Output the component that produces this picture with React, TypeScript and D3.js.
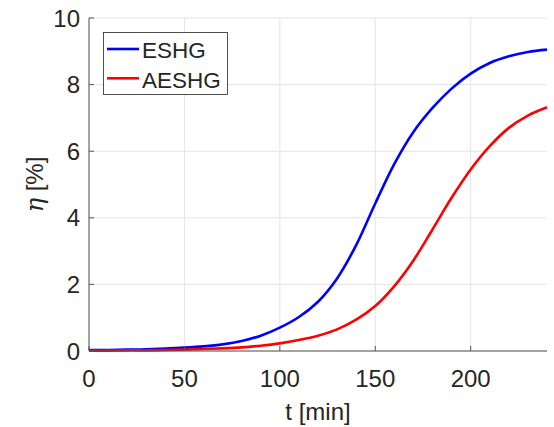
import React from "react";
import * as d3 from "d3";

const times = [0, 10, 20, 30, 40, 50, 60, 70, 80, 90, 100, 110, 120, 130, 140, 150, 160, 170, 180, 190, 200, 210, 220, 230, 240];
const eshg = [0.03, 0.03, 0.04, 0.05, 0.07, 0.1, 0.14, 0.2, 0.3, 0.46, 0.7, 1.02, 1.48, 2.18, 3.18, 4.43, 5.62, 6.58, 7.3, 7.88, 8.33, 8.65, 8.85, 8.98, 9.05];
const aeshg = [0.01, 0.01, 0.02, 0.02, 0.03, 0.04, 0.06, 0.08, 0.11, 0.16, 0.23, 0.33, 0.46, 0.65, 0.94, 1.35, 1.95, 2.72, 3.65, 4.6, 5.45, 6.15, 6.7, 7.07, 7.32];
const seriesNames = ["ESHG", "AESHG"];
const seriesColors = ["#0000ff", "#ff0000"];
const xTicks = [0, 50, 100, 150, 200];
const yTicks = [0, 2, 4, 6, 8, 10];

const W = 554;
const H = 427;
const left = 89;
const right = 547;
const top = 18;
const bottom = 351;
const FONT = "'Liberation Sans', Arial, Helvetica, sans-serif";
const TXT = "#262626";

export default function App() {
  const x = d3.scaleLinear().domain([0, 240]).range([left, right]);
  const y = d3.scaleLinear().domain([0, 10]).range([bottom, top]);
  const line = d3
    .line<number>()
    .x((_, i) => x(times[i]))
    .y((d) => y(d))
    .curve(d3.curveCatmullRom.alpha(0.5));
  const series = [eshg, aeshg];

  return (
    <svg
      width={W}
      height={H}
      style={{ position: "absolute", left: 0, top: 0, background: "#fff" }}
    >
      <rect x={0} y={0} width={W} height={H} fill="#fff" />
      {/* grid */}
      {xTicks.map((t) => (
        <line key={"gx" + t} x1={x(t)} x2={x(t)} y1={top} y2={bottom} stroke="#e4e4e4" strokeWidth={1} />
      ))}
      {yTicks.map((t) => (
        <line key={"gy" + t} x1={left} x2={right} y1={y(t)} y2={y(t)} stroke="#e4e4e4" strokeWidth={1} />
      ))}
      {/* curves */}
      {series.map((s, i) => (
        <path key={"s" + i} d={line(s) || ""} fill="none" stroke={seriesColors[i]} strokeWidth={2.6} />
      ))}
      {/* axes */}
      <line x1={left} x2={left} y1={top} y2={bottom} stroke="#555" strokeWidth={1} />
      <line x1={left} x2={right} y1={bottom} y2={bottom} stroke="#555" strokeWidth={1} />
      {xTicks.map((t) => (
        <g key={"tx" + t}>
          <line x1={x(t)} x2={x(t)} y1={bottom} y2={bottom - 5} stroke="#555" strokeWidth={1} />
          <text x={x(t)} y={387} textAnchor="middle" fontFamily={FONT} fontSize={24} fill={TXT}>
            {t}
          </text>
        </g>
      ))}
      {yTicks.map((t) => (
        <g key={"ty" + t}>
          <line x1={left} x2={left + 5} y1={y(t)} y2={y(t)} stroke="#555" strokeWidth={1} />
          <text x={80} y={y(t) + 8.5} textAnchor="end" fontFamily={FONT} fontSize={24} fill={TXT}>
            {t}
          </text>
        </g>
      ))}
      {/* axis labels */}
      <text x={(left + right) / 2} y={420} textAnchor="middle" fontFamily={FONT} fontSize={24} fill={TXT}>
        t [min]
      </text>
      <text
        transform={`translate(43, ${(top + bottom) / 2}) rotate(-90)`}
        textAnchor="middle"
        fontFamily={FONT}
        fontSize={24}
        fill={TXT}
      >
        <tspan fontFamily="'DejaVu Serif', 'Liberation Serif', serif" fontStyle="italic">
          η
        </tspan>
        <tspan> [%]</tspan>
      </text>
      {/* legend */}
      <rect x={103.5} y={32.5} width={124} height={62} fill="#fff" stroke="#262626" strokeWidth={0.8} />
      {seriesNames.map((n, i) => (
        <g key={"lg" + i}>
          <line x1={107} x2={139} y1={49 + i * 29.3} y2={49 + i * 29.3} stroke={seriesColors[i]} strokeWidth={2.6} />
          <text x={142} y={58.3 + i * 29.3} fontFamily={FONT} fontSize={22.5} fill={TXT}>
            {n}
          </text>
        </g>
      ))}
    </svg>
  );
}
